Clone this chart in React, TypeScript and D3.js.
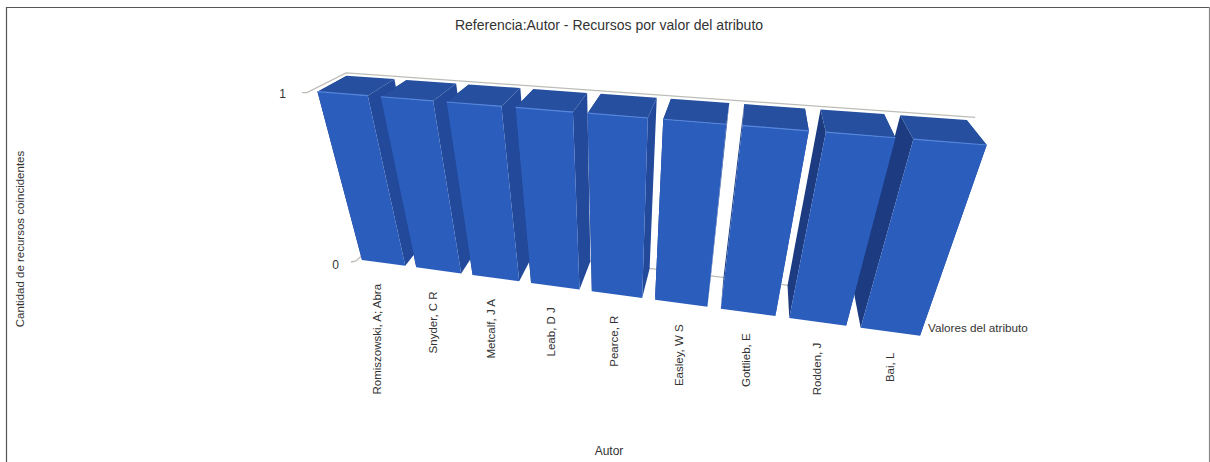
import React from "react";
import * as d3 from "d3";

const categories = ["Romiszowski, A; Abra", "Snyder, C R", "Metcalf, J A", "Leab, D J", "Pearce, R", "Easley, W S", "Gottlieb, E", "Rodden, J", "Bai, L"];
const values = [1, 1, 1, 1, 1, 1, 1, 1, 1];
const yTicks = [0, 1];

type P = [number, number];
// Projection planes of the 3D box: corners (bottom-left, bottom-right, top-right, top-left)
const frontPlane: P[] = [[362, 260], [920, 335.7], [986.7, 145], [317.5, 91.7]];
const backPlane: P[] = [[383, 236], [909, 300], [966.7, 120], [346.7, 75.7]];

function homography(q: P[]) {
  const [[x0, y0], [x1, y1], [x2, y2], [x3, y3]] = q;
  const sx = x0 - x1 + x2 - x3, sy = y0 - y1 + y2 - y3;
  const dx1 = x1 - x2, dx2 = x3 - x2, dy1 = y1 - y2, dy2 = y3 - y2;
  const den = dx1 * dy2 - dx2 * dy1;
  const g = (sx * dy2 - dx2 * sy) / den, h = (dx1 * sy - sx * dy1) / den;
  const a = x1 - x0 + g * x1, b = x3 - x0 + h * x3, d = y1 - y0 + g * y1, e = y3 - y0 + h * y3;
  return (u: number, v: number): P => {
    const w = g * u + h * v + 1;
    return [(a * u + b * v + x0) / w, (d * u + e * v + y0) / w];
  };
}

const front = homography(frontPlane);
const back = homography(backPlane);
const xScale = d3.scaleBand<string>().domain(categories).range([0, 1]).paddingInner(0.2).paddingOuter(0);
const yScale = d3.scaleLinear().domain([0, 1]).range([0, 1]);
const labelDx = d3.scaleLinear().domain([0, categories.length - 1]).range([-6, 0]);
const line = d3.line<P>();
const poly = (pts: P[]) => line(pts) + "Z";

const FONT = "'Liberation Sans', Arial, sans-serif";
const TEXT = "#333";
const GRID = "#bdbdb8";
const C = { front: "#2c5dbc", top: "#25509f", right: "#21489a", left: "#1a3b80", edge: "#5585dc" };

export default function App() {
  const bars = categories.map((c, i) => {
    const u0 = xScale(c)!, u1 = u0 + xScale.bandwidth();
    const v0 = yScale(0), v1 = yScale(values[i]);
    return {
      c, i,
      fbl: front(u0, v0), fbr: front(u1, v0), ftr: front(u1, v1), ftl: front(u0, v1),
      bbl: back(u0, v0), bbr: back(u1, v0), btr: back(u1, v1), btl: back(u0, v1),
    };
  });
  const wallTop: P[] = [[302, 92.7], [307, 92.7], back(0, 1.015), back(1.01, 1.015)];
  const wallBottom: P[] = [[351, 262], [356, 261], back(0, 0), back(1, 0)];
  return (
    <svg width={1210} height={462} style={{ position: "fixed", left: 0, top: 0, background: "#fff" }}>
      <defs>
        <filter id="soft" x="-2%" y="-2%" width="104%" height="104%">
          <feGaussianBlur stdDeviation="0.35" />
        </filter>
      </defs>
      <path d="M6.5,462V7.5H1209.5" fill="none" stroke="#555" strokeWidth={1.2} />
      <path d="M1209.5,7.5V462" fill="none" stroke="#888" strokeWidth={1.2} />
      <g filter="url(#soft)">
        <path d={line(wallTop)!} fill="none" stroke={GRID} strokeWidth={1.3} />
        <path d={line(wallBottom)!} fill="none" stroke={GRID} strokeWidth={1.3} />
        {bars.map((b) => (
          <g key={"s" + b.i}>
            <path d={poly([b.fbl, b.ftl, b.btl, b.bbl])} fill={C.left} />
            <path d={poly([b.fbr, b.ftr, b.btr, b.bbr])} fill={C.right} />
          </g>
        ))}
        {bars.map((b) => (
          <path key={"t" + b.i} d={poly([b.ftl, b.ftr, b.btr, b.btl])} fill={C.top} />
        ))}
        {bars.map((b) => (
          <g key={"f" + b.i}>
            <path d={poly([b.fbl, b.fbr, b.ftr, b.ftl])} fill={C.front} />
            <path d={line([b.ftl, b.ftr])!} stroke={C.edge} strokeWidth={1.2} fill="none" />
          </g>
        ))}
      </g>
      <g fontFamily={FONT} fill={TEXT}>
        <text x={609} y={30} fontSize={14} textAnchor="middle">Referencia:Autor - Recursos por valor del atributo</text>
        <text x={609} y={455} fontSize={12} textAnchor="middle">Autor</text>
        <text x={928} y={332} fontSize={11.7}>Valores del atributo</text>
        <text transform="translate(24,239) rotate(-90)" fontSize={11.5} textAnchor="middle">Cantidad de recursos coincidentes</text>
        {yTicks.map((t) => (
          <text key={t} x={t === 1 ? 286 : 339} y={t === 1 ? 98 : 269} fontSize={12} textAnchor="end">{t}</text>
        ))}
        {bars.map((b) => {
          const mid = front(xScale(b.c)! + xScale.bandwidth() / 2, 0);
          return (
            <text key={b.c} transform={`translate(${mid[0] + labelDx(b.i)},${mid[1] + 21}) rotate(-90)`}
              fontSize={11.5} textAnchor="end" dominantBaseline="central">{b.c}</text>
          );
        })}
      </g>
    </svg>
  );
}
